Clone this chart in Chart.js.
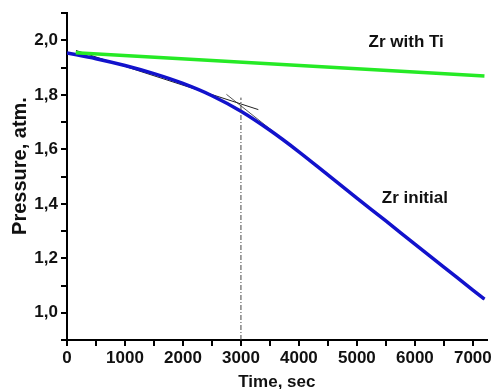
<!DOCTYPE html>
<html>
<head>
<meta charset="utf-8">
<script src="https://cdn.jsdelivr.net/npm/chart.js@4/dist/chart.umd.min.js"></script>
<style>
  html, body { margin: 0; padding: 0; background: #fff; }
  #wrap { width: 494px; height: 389px; }
</style>
</head>
<body>
<div id="wrap"><canvas id="pressureChart"></canvas></div>
<script>
    // data
    var timeZr = [0, 500, 1000, 1500, 2000, 2500, 3000, 3500, 4000, 4500, 5000, 5500, 6000, 6500, 7000, 7200];
    var pressureZr = [1.954, 1.933, 1.908, 1.878, 1.842, 1.797, 1.740, 1.670, 1.591, 1.506, 1.421, 1.337, 1.252, 1.168, 1.083, 1.050];

    var timeZrTi = [150, 7200];
    var pressureZrTi = [1.955, 1.869];

    // tangents + marker at 3000 s
    var tangent1Time = [155, 3300];
    var tangent1Pressure = [1.963, 1.746];
    var tangent2Time = [2750, 7200];
    var tangent2Pressure = [1.802, 1.050];
    var markTime = [3000, 3000];
    var markPressure = [0.9, 1.79];

    // x ticks every 500 s, labelled every 1000 s
    var timeTicks = [0, 500, 1000, 1500, 2000, 2500, 3000, 3500, 4000, 4500, 5000, 5500, 6000, 6500, 7000];

    var labelTexts = ['Zr with Ti', 'Zr initial'];
    var labelTime = [5850, 6000];
    var labelPressure = [1.993, 1.42];

    function toPoints(xs, ys) {
        var pts = [];
        for (var i = 0; i < xs.length; i++) {
            pts.push({ x: xs[i], y: ys[i] });
        }
        return pts;
    }

    var FONT = { family: "'Liberation Sans', Arial, sans-serif", size: 17, weight: 'bold' };

    // text labels inside the plot + y axis title
    var textLabels = {
        id: 'textLabels',
        afterDatasetsDraw: function (chart) {
            var ctx = chart.ctx;
            var xs = chart.scales.x, ys = chart.scales.y;
            ctx.save();
            ctx.fillStyle = '#111';
            ctx.font = 'bold 17px ' + FONT.family;
            ctx.textAlign = 'center';
            ctx.textBaseline = 'middle';
            for (var i = 0; i < labelTexts.length; i++) {
                ctx.fillText(labelTexts[i], xs.getPixelForValue(labelTime[i]), ys.getPixelForValue(labelPressure[i]));
            }
            // y title
            ctx.translate(20, 166);
            ctx.rotate(-Math.PI / 2);
            ctx.font = 'bold 20px ' + FONT.family;
            ctx.fillText('Pressure, atm.', 0, 0);
            ctx.restore();
        }
    };

    var ctx = document.getElementById('pressureChart').getContext('2d');
    var chart = new Chart(ctx, {
        type: 'line',
        data: {
            datasets: [
                {
                    label: 'mark',
                    data: toPoints(markTime, markPressure),
                    borderColor: '#444',
                    borderWidth: 1,
                    borderDash: [5, 2, 1, 2],
                    pointRadius: 0
                },
                {
                    label: 'Zr with Ti',
                    data: toPoints(timeZrTi, pressureZrTi),
                    borderColor: '#26ea26',
                    borderWidth: 3.5,
                    pointRadius: 0
                },
                {
                    label: 'Zr initial',
                    data: toPoints(timeZr, pressureZr),
                    borderColor: '#1212cc',
                    borderWidth: 3.5,
                    pointRadius: 0,
                    cubicInterpolationMode: 'monotone'
                },
                {
                    label: 'tangent 1',
                    data: toPoints(tangent1Time, tangent1Pressure),
                    borderColor: '#222',
                    borderWidth: 1,
                    pointRadius: 0
                },
                {
                    label: 'tangent 2',
                    data: toPoints(tangent2Time, tangent2Pressure),
                    borderColor: '#555',
                    borderWidth: 1,
                    pointRadius: 0
                }
            ]
        },
        options: {
            responsive: true,
            maintainAspectRatio: false,
            animation: false,
            layout: { padding: { left: 0, right: 7, top: 11, bottom: 0 } },
            plugins: {
                legend: { display: false },
                tooltip: { enabled: false }
            },
            scales: {
                x: {
                    type: 'linear',
                    min: 0,
                    max: 7240,
                    afterBuildTicks: function (scale) {
                        scale.ticks = timeTicks.map(function (v) { return { value: v }; });
                    },
                    afterFit: function (scale) { scale.height = 49; },
                    border: { display: true, color: '#000', width: 2 },
                    grid: { drawOnChartArea: false, drawTicks: true, tickLength: 6, color: '#000', lineWidth: 2 },
                    ticks: {
                        autoSkip: false,
                        maxRotation: 0,
                        padding: 2,
                        color: '#111',
                        font: FONT,
                        callback: function (v) { return v % 1000 === 0 ? String(v) : ''; }
                    },
                    title: {
                        display: true,
                        text: 'Time, sec',
                        color: '#111',
                        font: { family: FONT.family, size: 17, weight: 'bold', lineHeight: 0.8 },
                        padding: { top: 0, bottom: 0 }
                    }
                },
                y: {
                    min: 0.9,
                    max: 2.1,
                    afterFit: function (scale) { scale.width = 67; },
                    border: { display: true, color: '#000', width: 2 },
                    grid: { drawOnChartArea: false, drawTicks: true, tickLength: 6, color: '#000', lineWidth: 2 },
                    ticks: {
                        stepSize: 0.1,
                        autoSkip: false,
                        padding: 3,
                        color: '#111',
                        font: FONT,
                        callback: function (v) {
                            var n = Math.round(v * 10);
                            if (n % 2 !== 0 || n < 10 || n > 20) return '';
                            return (n / 10).toFixed(1).replace('.', ',');
                        }
                    }
                }
            }
        },
        plugins: [textLabels]
    });
</script>
</body>
</html>
